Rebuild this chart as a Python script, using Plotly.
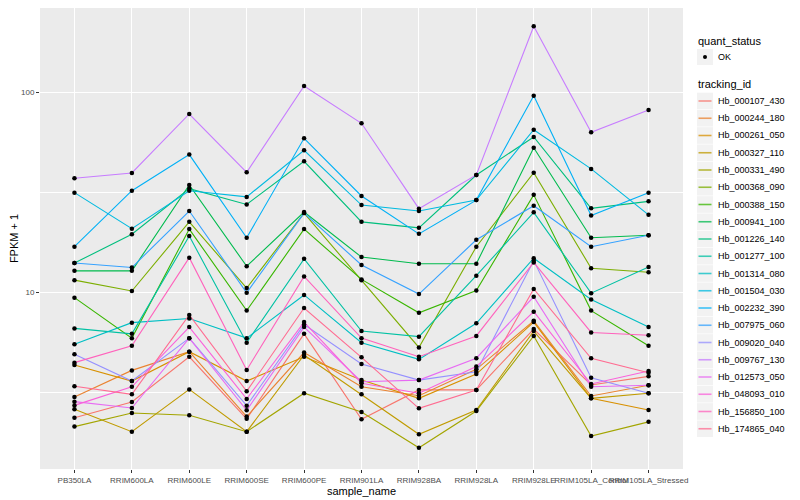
import plotly.graph_objects as go

samples = ["PB350LA", "RRIM600LA", "RRIM600LE", "RRIM600SE", "RRIM600PE", "RRIM901LA",
           "RRIM928BA", "RRIM928LA", "RRIM928LE", "RRIM105LA_Control", "RRIM105LA_Stressed"]

tracking_ids = ["Hb_000107_430", "Hb_000244_180", "Hb_000261_050", "Hb_000327_110", "Hb_000331_490",
                "Hb_000368_090", "Hb_000388_150", "Hb_000941_100", "Hb_001226_140", "Hb_001277_100",
                "Hb_001314_080", "Hb_001504_030", "Hb_002232_390", "Hb_007975_060", "Hb_009020_040",
                "Hb_009767_130", "Hb_012573_050", "Hb_048093_010", "Hb_156850_100", "Hb_174865_040"]

hb_000107_430 = [2.36, 2.83, 4.76, 2.33, 6.2, 2.32, 3.25, 3.25, 6.55, 3.44, 3.8]
hb_000244_180 = [3.0, 4.07, 5.05, 2.39, 5.0, 3.37, 3.04, 4.12, 7.2, 3.03, 3.43]
hb_000261_050 = [4.33, 3.6, 5.05, 3.6, 4.76, 3.64, 2.95, 3.9, 7.1, 2.95, 2.58]
hb_000327_110 = [2.6, 2.01, 3.27, 2.01, 4.86, 3.09, 1.95, 2.58, 6.4, 2.95, 3.13]
hb_000331_490 = [2.13, 2.49, 2.43, 2.01, 3.13, 2.52, 1.67, 2.55, 6.05, 1.91, 2.25]
hb_000368_090 = [11.5, 10.15, 22.5, 10.5, 24.9, 11.5, 5.3, 16.9, 39.6, 13.2, 12.6]
hb_000388_150 = [9.4, 5.9, 20.7, 8.1, 20.7, 11.6, 7.9, 10.2, 30.7, 8.1, 5.4]
hb_000941_100 = [12.8, 12.8, 34.4, 13.5, 25.2, 15.0, 13.9, 13.9, 52.8, 18.75, 19.3]
hb_001226_140 = [14.0, 19.5, 33.0, 27.5, 45.2, 22.5, 21.0, 38.6, 59.8, 26.3, 28.5]
hb_001277_100 = [6.6, 6.2, 19.1, 5.6, 14.7, 6.4, 6.0, 12.1, 25.1, 9.9, 13.4]
hb_001314_080 = [5.5, 7.05, 7.4, 5.9, 9.7, 5.6, 4.62, 7.0, 14.8, 9.2, 6.7]
hb_001504_030 = [31.5, 20.8, 32.2, 30.0, 51.3, 27.3, 25.5, 28.9, 65.0, 41.4, 24.4]
hb_002232_390 = [16.9, 32.2, 48.8, 18.75, 58.9, 30.3, 19.6, 28.9, 96.2, 24.2, 31.5]
hb_007975_060 = [14.0, 13.3, 25.5, 9.95, 24.9, 13.7, 9.8, 18.3, 27.1, 16.9, 19.3]
hb_009020_040 = [4.9, 3.6, 5.9, 2.71, 6.9, 4.38, 3.64, 4.01, 14.4, 3.74, 3.13]
hb_009767_130 = [37.2, 39.5, 77.9, 39.8, 107.5, 70.0, 26.2, 38.6, 213.8, 63.1, 81.6]
hb_012573_050 = [2.84, 2.64, 5.9, 2.57, 6.7, 3.57, 3.64, 4.68, 9.5, 3.37, 3.43]
hb_048093_010 = [2.72, 3.37, 6.7, 2.93, 7.1, 3.51, 3.13, 4.25, 8.0, 3.48, 4.04]
hb_156850_100 = [4.45, 5.4, 14.9, 4.09, 12.0, 5.9, 4.76, 6.05, 14.1, 6.3, 6.1]
hb_174865_040 = [3.39, 3.09, 7.7, 3.2, 8.35, 4.73, 2.63, 3.25, 10.4, 4.68, 3.96]

series = [hb_000107_430, hb_000244_180, hb_000261_050, hb_000327_110, hb_000331_490,
          hb_000368_090, hb_000388_150, hb_000941_100, hb_001226_140, hb_001277_100,
          hb_001314_080, hb_001504_030, hb_002232_390, hb_007975_060, hb_009020_040,
          hb_009767_130, hb_012573_050, hb_048093_010, hb_156850_100, hb_174865_040]

colors = ["#F8766D", "#EA8331", "#D89000", "#C09B00", "#A3A500", "#7CAE00", "#39B600",
          "#00BB4E", "#00BF7D", "#00C1A3", "#00BFC4", "#00BAE0", "#00B0F6", "#35A2FF",
          "#9590FF", "#C77CFF", "#E76BF3", "#FA62DB", "#FF62BC", "#FF6C91"]

FONT = "Liberation Sans, Arial, sans-serif"
OFF = 8                       # page body margin offset in the browser
W, H = 800 - OFF, 500 - OFF
PANEL_BOTTOM = 469            # window px
ML, MR, MT = 32, 117, 0
MB = H - (PANEL_BOTTOM - OFF)
PW, PH = W - ML - MR, H - MT - MB


def px(xw):
    """window pixel x -> paper x"""
    return (xw - OFF - ML) / PW


def py(yw):
    """window pixel y -> paper y"""
    return (H - MB - (yw - OFF)) / PH


fig = go.Figure()
for i, (tid, vals) in enumerate(zip(tracking_ids, series)):
    fig.add_trace(go.Scatter(
        x=samples, y=vals, mode="lines", name=tid,
        line=dict(color=colors[i], width=1.1),
        hoverinfo="skip", showlegend=False,
    ))

all_x = [s for vals in series for s in samples]
all_y = [v for vals in series for v in vals]
fig.add_trace(go.Scatter(
    x=all_x, y=all_y, mode="markers", name="OK",
    marker=dict(color="#000000", size=4.5, symbol="circle"),
    showlegend=False,
))

# ---- manual legend (ggplot style) ----
shapes = []
annotations = []
LX0, LX1 = 697, 713      # key box (window px)
TX = 716                 # text start

annotations.append(dict(x=px(696), y=py(41), xref="paper", yref="paper", text="quant_status",
                        showarrow=False, xanchor="left", yanchor="middle",
                        font=dict(family=FONT, size=11, color="#000000")))
shapes.append(dict(type="rect", xref="paper", yref="paper", x0=px(LX0), x1=px(LX1),
                   y0=py(65), y1=py(49), fillcolor="#F2F2F2", line=dict(width=0), layer="above"))
shapes.append(dict(type="circle", xref="paper", yref="paper", x0=px(703), x1=px(707),
                   y0=py(59), y1=py(55), fillcolor="#000000", line=dict(width=0), layer="above"))
annotations.append(dict(x=px(TX), y=py(57), xref="paper", yref="paper", text="OK",
                        showarrow=False, xanchor="left", yanchor="middle",
                        font=dict(family=FONT, size=9, color="#000000")))

annotations.append(dict(x=px(696), y=py(84), xref="paper", yref="paper", text="tracking_id",
                        showarrow=False, xanchor="left", yanchor="middle",
                        font=dict(family=FONT, size=11, color="#000000")))
for i, tid in enumerate(tracking_ids):
    yc = 101 + i * 17.25
    shapes.append(dict(type="rect", xref="paper", yref="paper", x0=px(LX0), x1=px(LX1),
                       y0=py(yc + 8.3), y1=py(yc - 8.3), fillcolor="#F2F2F2",
                       line=dict(width=0), layer="above"))
    shapes.append(dict(type="line", xref="paper", yref="paper", x0=px(698.5), x1=px(711.5),
                       y0=py(yc), y1=py(yc), line=dict(color=colors[i], width=1.6), layer="above",
                       opacity=0.75))
    annotations.append(dict(x=px(TX), y=py(yc), xref="paper", yref="paper", text=tid,
                            showarrow=False, xanchor="left", yanchor="middle",
                            font=dict(family=FONT, size=9, color="#000000")))

# y range: 100 sits at window y=92.3, one decade = 200 px
y_top = 2 + (92.3 - OFF) / 200
y_bot = 2 - (PANEL_BOTTOM - 92.3) / 200

fig.update_layout(
    width=W, height=H,
    margin=dict(l=ML, r=MR, t=MT, b=MB, autoexpand=False),
    paper_bgcolor="#FFFFFF",
    plot_bgcolor="#EBEBEB",
    font=dict(family=FONT, size=9, color="#000000"),
    showlegend=False,
    shapes=shapes,
    annotations=annotations,
    xaxis=dict(
        type="category", categoryorder="array", categoryarray=samples,
        range=[-0.6, 10.6], automargin=False,
        showgrid=True, gridcolor="#FFFFFF", gridwidth=1.1,
        ticks="outside", ticklen=3, tickcolor="#333333", tickwidth=1,
        tickangle=0,
        tickfont=dict(family=FONT, size=8, color="#4D4D4D"),
        title=dict(text="sample_name", font=dict(family=FONT, size=11, color="#000000"), standoff=1),
        zeroline=False, showline=False,
    ),
    yaxis=dict(
        type="log", range=[y_bot, y_top], automargin=False,
        tickvals=[10, 100], ticktext=["10", "100"],
        showgrid=True, gridcolor="#FFFFFF", gridwidth=1.1,
        minor=dict(tickvals=[3.1623, 31.623], showgrid=True, gridcolor="#FFFFFF",
                   gridwidth=0.5, ticks=""),
        ticks="outside", ticklen=3, tickcolor="#333333", tickwidth=1,
        tickfont=dict(family=FONT, size=8, color="#4D4D4D"),
        title=dict(text="FPKM + 1", font=dict(family=FONT, size=11, color="#000000"), standoff=3),
        zeroline=False, showline=False,
    ),
)

fig.write_html("out.html")
